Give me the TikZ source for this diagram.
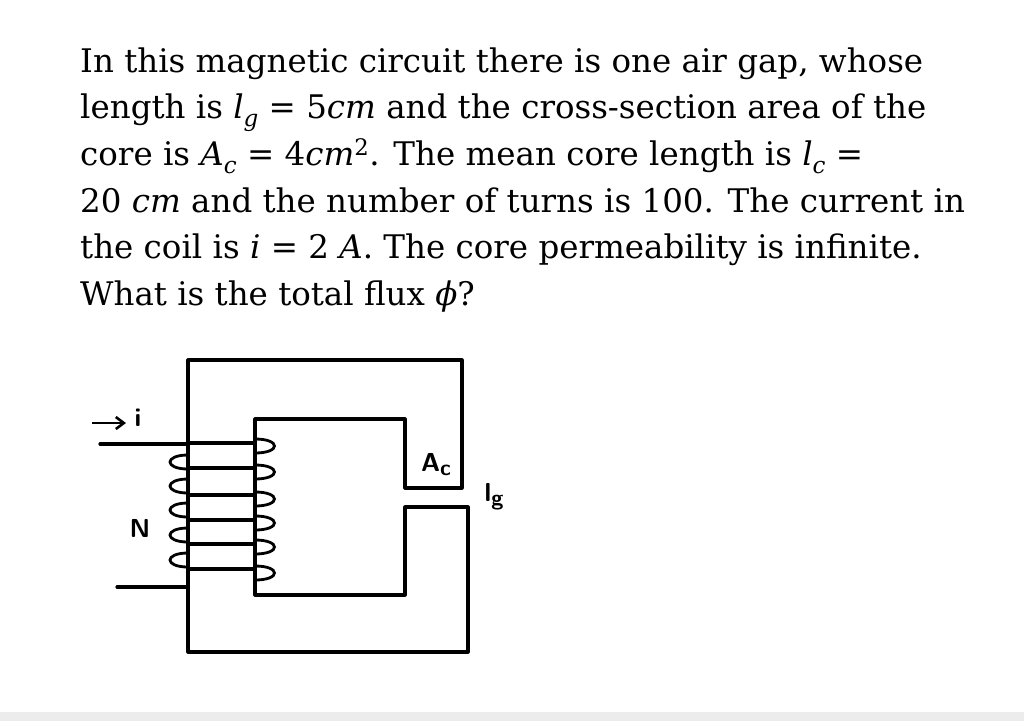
\documentclass[tikz,border=0pt]{standalone}
\usepackage{fontspec}
\setmainfont{DejaVu Serif}
\usetikzlibrary{arrows.meta}
\newcommand{\mi}[1]{\textit{#1}}
\newcommand{\sbs}[1]{\raisebox{-0.25em}{\fontsize{23}{23}\selectfont\textit{#1}}}
\begin{document}
\begin{tikzpicture}[x=1pt,y=-1pt,
  txt/.style={anchor=base west,inner sep=0pt,font=\fontsize{32.5}{38}\selectfont},
  core/.style={line width=3.2pt,line join=round,line cap=round},
  hand/.style={inner sep=0pt,font=\sffamily\bfseries\fontsize{26}{30}\selectfont}]
\useasboundingbox (0,0) rectangle (1024,721);
\fill[gray!15] (0,712) rectangle (1024,721);
\node[txt] (l1) at (80,72) {In this magnetic circuit there is one air gap, whose};
\node[txt] (l2) at (80,118) {length is \mi{l}\sbs{g} = 5\mi{cm} and the cross-section area of the};
\node[txt] (l3) at (80,165) {core is \mi{A}\sbs{c} = 4\mi{cm}\textsuperscript{2}. The mean core length is \mi{l}\sbs{c} =};
\node[txt] (l4) at (80,212) {20 \mi{cm} and the number of turns is 100. The current in};
\node[txt] (l5) at (80,258) {the coil is \mi{i} = 2 \mi{A}. The core permeability is infinite.};
\node[txt] (l6) at (80,305) {What is the total flux \mi{ϕ}?};
% core
\draw[core] (405,488) -- (462,488) -- (462,360) -- (188,360) -- (188,652) -- (468,652) -- (468,507) -- (405,507) -- (405,595) -- (255,595) -- (255,419) -- (405,419) -- cycle;
% leads
\coordinate (a1) at (100,444); \coordinate (a2) at (188,444);
\coordinate (b1) at (117,587); \coordinate (b2) at (188,587);
\draw[core] (a1) -- (a2); \draw[core] (b1) -- (b2);
% windings
\foreach \y in {443,468,495,520,544,569} \draw[core] (188,\y) -- (255,\y);
\foreach \y in {462,486,510,535,560}
  \draw[line width=2.8pt] (188,\y-7) .. controls (164,\y-7) and (164,\y+7) .. (188,\y+7);
\foreach \y in {446,472,499,523,547,573}
  \draw[line width=2.8pt] (255,\y-7) .. controls (281,\y-7) and (281,\y+7) .. (255,\y+7);
% labels
\coordinate (i1) at (92,423); \coordinate (i2) at (126,423);
\draw[line width=2.6pt,-{Straight Barb[length=8pt,width=12pt]}] (i1) -- (i2);
\node[hand] (il) at (138,418) {i};
\node[hand] (N) at (140,528) {N};
\node[hand] (Ac) at (436,465) {A\raisebox{-0.15em}{\fontsize{22}{22}\selectfont c}};
\node[hand] (lg) at (494,497) {l\raisebox{-0.15em}{\fontsize{22}{22}\selectfont g}};
\end{tikzpicture}
\end{document}
